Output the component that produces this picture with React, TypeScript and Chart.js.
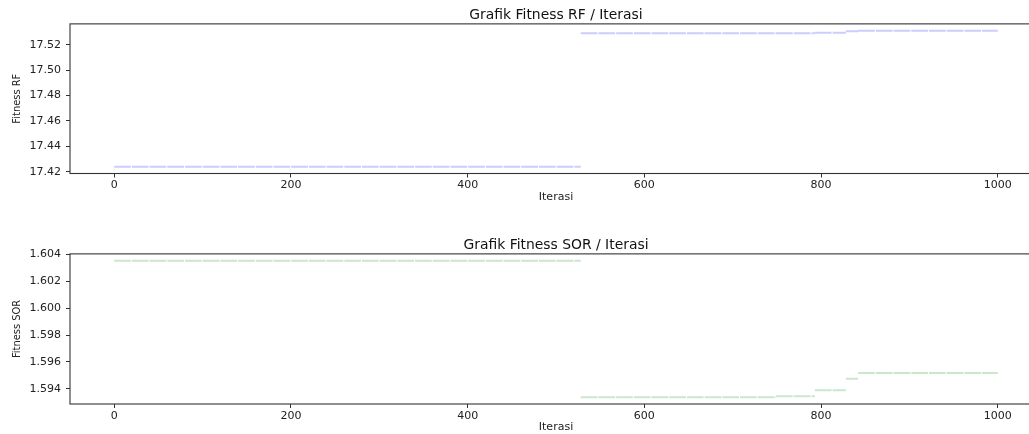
import React, { useEffect, useRef } from 'react';
import { Chart, registerables } from 'chart.js';

Chart.register(...registerables);

// ---- data ----
const stepStarts = [0, 528, 749, 793, 828, 842];
const lastIteration = 1000;
const rfValues = [17.4239, 17.5289, 17.5289, 17.5294, 17.5305, 17.531];
const sorValues = [1.60351, 1.59339, 1.59346, 1.5939, 1.59475, 1.59519];
const xTicks = [0, 200, 400, 600, 800, 1000];
const rfTicks = [17.42, 17.44, 17.46, 17.48, 17.5, 17.52];
const sorTicks = [1.594, 1.596, 1.598, 1.6, 1.602, 1.604];

const rfTitle = 'Grafik Fitness RF / Iterasi';
const sorTitle = 'Grafik Fitness SOR / Iterasi';
const rfLabel = 'Fitness RF';
const sorLabel = 'Fitness SOR';
const xLabel = 'Iterasi';

const CANVAS_W = 1042;
const CANVAS_H = 208;

function buildSegments(values: number[]) {
  const pts: { x: number; y: number | null }[] = [];
  values.forEach((v, i) => {
    const end = i + 1 < stepStarts.length ? stepStarts[i + 1] : lastIteration;
    pts.push({ x: stepStarts[i], y: v }, { x: end, y: v }, { x: end, y: null });
  });
  return pts;
}

function margins(values: number[]) {
  const mn = Math.min(...values);
  const mx = Math.max(...values);
  const m = (mx - mn) * 0.05;
  return { min: mn - m, max: mx + m };
}

const framePlugin = {
  id: 'frame',
  afterDraw(chart: any) {
    const { ctx, chartArea } = chart;
    const { left, top, right, bottom } = chartArea;
    ctx.save();
    ctx.strokeStyle = '#333';
    ctx.lineWidth = 1.1;
    ctx.strokeRect(left, top, right - left, bottom - top);
    ctx.restore();
  },
};

const TICK_FONT = { family: "'DejaVu Sans', sans-serif", size: 11 };

function makeConfig(
  title: string,
  yLabel: string,
  values: number[],
  yTicks: number[],
  decimals: number,
  color: string,
  xAxisHeight: number
): any {
  const yr = margins(values);
  return {
    type: 'line',
    data: {
      datasets: [
        {
          data: buildSegments(values),
          borderColor: color,
          borderWidth: 2,
          borderDash: [16.7, 1],
          pointRadius: 0,
          spanGaps: false,
          tension: 0,
          fill: false,
        },
      ],
    },
    plugins: [framePlugin],
    options: {
      responsive: false,
      animation: false,
      devicePixelRatio: 1,
      layout: { padding: 0 },
      plugins: {
        legend: { display: false },
        tooltip: { enabled: false },
        title: {
          display: true,
          fullSize: false,
          text: title,
          color: '#111',
          font: { family: "'DejaVu Sans', sans-serif", size: 13.9, weight: 'normal' },
          padding: { top: 6.6, bottom: 0.6 },
        },
      },
      scales: {
        x: {
          type: 'linear',
          min: -50,
          max: 1050,
          afterBuildTicks: (s: any) => {
            s.ticks = xTicks.map((v) => ({ value: v }));
          },
          afterFit: (s: any) => {
            s.height = xAxisHeight;
          },
          ticks: {
            color: '#222',
            font: TICK_FONT,
            padding: 1.5,
            maxRotation: 0,
            autoSkip: false,
            callback: (v: any) => String(v),
          },
          grid: {
            display: true,
            drawOnChartArea: false,
            drawTicks: true,
            tickLength: 4,
            tickColor: '#333',
            tickWidth: 1,
          },
          border: { display: false },
          title: {
            display: true,
            text: xLabel,
            color: '#222',
            font: TICK_FONT,
            padding: { top: 0, bottom: 4.4 },
          },
        },
        y: {
          type: 'linear',
          min: yr.min,
          max: yr.max,
          afterBuildTicks: (s: any) => {
            s.ticks = yTicks.map((v) => ({ value: v }));
          },
          afterFit: (s: any) => {
            s.width = 70;
          },
          ticks: {
            color: '#222',
            font: TICK_FONT,
            padding: 5,
            autoSkip: false,
            callback: (v: any) => Number(v).toFixed(decimals),
          },
          grid: {
            display: true,
            drawOnChartArea: false,
            drawTicks: true,
            tickLength: 4,
            tickColor: '#333',
            tickWidth: 1,
          },
          border: { display: false },
          title: {
            display: true,
            text: yLabel,
            color: '#222',
            font: { family: "'Liberation Sans Narrow', 'DejaVu Sans Condensed', sans-serif", size: 11 },
            padding: { top: 10.4, bottom: 0 },
          },
        },
      },
    },
  };
}

export default function App() {
  const topRef = useRef<HTMLCanvasElement | null>(null);
  const botRef = useRef<HTMLCanvasElement | null>(null);

  useEffect(() => {
    document.body.style.margin = '0';
    document.body.style.overflow = 'hidden';
    const charts: Chart[] = [];
    if (topRef.current) {
      charts.push(
        new Chart(
          topRef.current,
          makeConfig(rfTitle, rfLabel, rfValues, rfTicks, 2, 'rgba(0,0,255,0.2)', 34.5)
        )
      );
    }
    if (botRef.current) {
      charts.push(
        new Chart(
          botRef.current,
          makeConfig(sorTitle, sorLabel, sorValues, sorTicks, 3, 'rgba(0,128,0,0.2)', 34)
        )
      );
    }
    return () => charts.forEach((c) => c.destroy());
  }, []);

  return (
    <div
      style={{
        position: 'fixed',
        left: 0,
        top: 0,
        width: 1029,
        height: 434,
        overflow: 'hidden',
        background: '#fff',
      }}
    >
      <canvas
        ref={topRef}
        width={CANVAS_W}
        height={CANVAS_H}
        style={{ position: 'absolute', left: 0, top: 0, width: CANVAS_W, height: CANVAS_H }}
      />
      <canvas
        ref={botRef}
        width={CANVAS_W}
        height={CANVAS_H}
        style={{ position: 'absolute', left: 0, top: 230, width: CANVAS_W, height: CANVAS_H }}
      />
    </div>
  );
}
